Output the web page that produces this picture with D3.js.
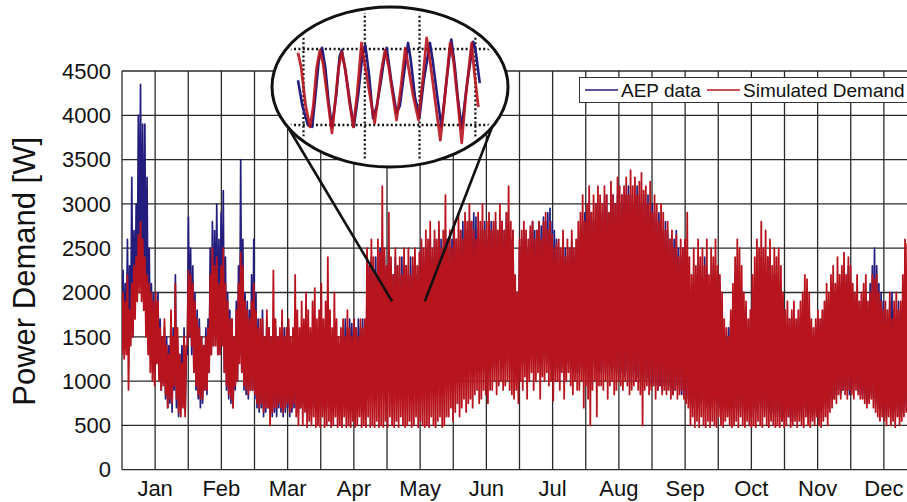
<!DOCTYPE html>
<html>
<head>
<meta charset="utf-8">
<script src="https://cdn.jsdelivr.net/npm/d3@7/dist/d3.min.js"></script>
<style>
  body { margin: 0; background: #fff; }
  svg { display: block; font-family: "Liberation Sans", Arial, sans-serif; }
</style>
</head>
<body>
<div id="chart"></div>
<script>

// daily high / low of the measured AEP demand [W], day 0 = 1 Jan
var aepHi = [
  2250, 2100, 2600, 2300, 3300, 2700, 3000, 4000, 4350, 3900,
  3900, 3300, 2500, 2100, 2000, 1900, 2000, 1700, 1500, 1600,
  1500, 1400, 1700, 1600, 2200, 1500, 1300, 1400, 1600, 1300,
  2850, 2500, 2300, 2000, 1800, 1700, 1500, 1400, 1600, 1700,
  2500, 2800, 2700, 3000, 2600, 2900, 3150, 2400, 2000, 1800,
  1700, 1500, 1900, 2300, 3500, 2600, 2000, 1900, 1800, 2200,
  2600, 2000, 1700, 1600, 1800, 1500, 1700, 1600, 1500, 1700,
  1600, 1500, 1400, 1700, 1600, 1500, 1600, 1400, 1500, 1600,
  1500, 1400, 1600, 1500, 1700, 1600, 1400, 1500, 1600, 1500,
  1600, 1500, 1400, 1500, 1600, 1500, 1400, 1300, 1500, 1400,
  1500, 1600, 1700, 1600, 1700, 1650, 1700, 1600, 1700, 1600,
  1700, 1600, 2100, 2300, 2400, 2200, 2400, 2300, 2500, 2600,
  2400, 2300, 2500, 2300, 2200, 2400, 2300, 2200, 2400, 2300,
  2300, 2200, 2400, 2300, 2400, 2200, 2300, 2500, 2400, 2500,
  2500, 2600, 2400, 2600, 2500, 2700, 2600, 2500, 2700, 2600,
  2500, 2600, 2700, 2600, 2500, 2700, 2800, 2600, 2700, 2800,
  2800, 2900, 2850, 2700, 2600, 2700, 2800, 2600, 2700, 2800,
  2700, 2800, 2700, 2600, 2800, 2700, 2900, 2700, 2600, 2700,
  2100, 2000, 2500, 2600, 2700, 2600, 2500, 2700, 2800, 2700,
  2700, 2800, 2750, 2850, 2800, 2900, 2950, 2800, 2700, 2600,
  2500, 2400, 2600, 2500, 2400, 2500, 2600, 2400, 2500, 2600,
  2700, 2800, 2900, 2800, 3000, 2900, 2800, 3000, 2900, 3000,
  2900, 3000, 3100, 2900, 3000, 3100, 3000, 3100, 3000, 3100,
  3000, 3100, 3200, 3100, 3000, 3100, 3200, 3100, 3000, 3100,
  3000, 3100, 2900, 3000, 2900, 2800, 2900, 2800, 2700, 2800,
  2700, 2600, 2500, 2600, 2700, 2500, 2400, 2500, 2400, 2300,
  1900, 1800, 2100, 2200, 2000, 2300, 2100, 2400, 2200, 2000,
  2100, 2300, 2200, 2000, 2100, 1900, 1600, 1500, 1600, 1700,
  1900, 2200, 2300, 2100, 2000, 1800, 1700, 1600, 1700, 1900,
  2100, 2300, 2200, 2400, 2300, 2200, 2400, 2300, 2100, 2200,
  2200, 2000, 2100, 1900, 1700, 1600, 1700, 1600, 1500, 1600,
  1700, 1600, 1800, 2000, 1900, 1800, 1600, 1500, 1600, 1700,
  1600, 1700, 1800, 1900, 1800, 2000, 2100, 2000, 1900, 2100,
  2000, 2200, 2100, 2300, 2100, 2000, 1900, 2000, 1800, 1900,
  1900, 2000, 1800, 2100, 2300, 2500, 2300, 2100, 2000, 1900,
  1800, 1700, 1900, 2000, 1800, 1700, 1900, 1800, 2000, 2100,
  2200, 2300, 2000, 1900, 2100
];
var aepLo = [
  1450, 1350, 1500, 1400, 1600, 1500, 1800, 2000, 2200, 2100,
  1900, 1700, 1400, 1300, 1200, 1100, 1300, 1100, 900, 1000,
  800, 700, 750, 650, 900, 700, 600, 700, 750, 650,
  1300, 1500, 1300, 1100, 900, 800, 700, 750, 900, 850,
  1100, 1300, 1400, 1500, 1300, 1400, 1500, 1100, 900, 800,
  750, 700, 900, 1000, 1300, 1100, 900, 850, 800, 900,
  900, 800, 700, 650, 700, 600, 650, 700, 650, 600,
  650, 600, 700, 650, 600, 650, 700, 600, 650, 700,
  700, 650, 700, 750, 700, 650, 700, 750, 700, 650,
  700, 750, 700, 650, 700, 750, 700, 650, 700, 750,
  800, 700, 750, 800, 700, 750, 800, 750, 700, 800,
  800, 750, 900, 800, 850, 900, 800, 850, 900, 800,
  850, 800, 900, 850, 800, 900, 850, 800, 900, 850,
  900, 850, 900, 950, 900, 850, 900, 950, 900, 1000,
  950, 1000, 900, 1000, 950, 1000, 1050, 1000, 950, 1000,
  1000, 950, 1050, 1000, 1100, 1050, 1000, 1100, 1050, 1100,
  1100, 1050, 1100, 1150, 1100, 1200, 1100, 1150, 1200, 1100,
  1200, 1150, 1200, 1250, 1200, 1150, 1200, 1250, 1200, 1150,
  1100, 1150, 1200, 1250, 1200, 1300, 1250, 1200, 1250, 1300,
  1250, 1300, 1200, 1250, 1300, 1200, 1250, 1150, 1200, 1100,
  1150, 1100, 1200, 1150, 1100, 1200, 1150, 1100, 1200, 1100,
  1100, 1150, 1100, 1200, 1150, 1100, 1200, 1150, 1100, 1200,
  1100, 1150, 1100, 1200, 1150, 1100, 1150, 1100, 1050, 1100,
  1100, 1050, 1100, 1000, 1050, 1100, 1000, 1050, 1000, 1050,
  1000, 1050, 1000, 950, 1000, 950, 900, 950, 900, 950,
  900, 950, 900, 850, 900, 950, 900, 850, 900, 850,
  800, 750, 700, 800, 750, 700, 750, 800, 700, 750,
  750, 700, 800, 750, 700, 800, 750, 700, 650, 700,
  700, 750, 700, 650, 700, 750, 700, 650, 700, 600,
  700, 650, 700, 750, 700, 650, 700, 650, 600, 650,
  600, 650, 600, 550, 600, 650, 600, 550, 600, 650,
  600, 650, 600, 700, 650, 600, 650, 600, 650, 700,
  700, 650, 700, 750, 700, 800, 850, 800, 850, 900,
  850, 900, 950, 900, 850, 900, 950, 1000, 900, 850,
  850, 800, 750, 800, 850, 800, 750, 700, 650, 700,
  650, 600, 700, 650, 600, 650, 700, 600, 650, 700,
  750, 800, 700, 750, 800
];

// daily high / low of the simulated demand [W]
var simHi = [
  2000, 1900, 2200, 1800, 2100, 2300, 2400, 2650, 2800, 2600,
  2400, 2200, 2100, 2000, 1900, 2000, 1900, 1600, 1500, 1700,
  1400, 1300, 1800, 1500, 2100, 1600, 1300, 1200, 1500, 1400,
  2250, 2200, 2100, 1900, 1700, 1600, 1500, 1400, 1500, 1600,
  2200, 2500, 2300, 2400, 2100, 2300, 2500, 2100, 1900, 1700,
  1700, 1500, 1800, 2100, 2450, 2300, 1900, 1800, 1700, 1900,
  2100, 1800, 1600, 1700, 1700, 1500, 1800, 1600, 1500, 2250,
  1700, 1500, 1600, 1800, 1500, 1600, 1700, 1500, 1600, 2200,
  1800, 1600, 1900, 1700, 2000, 1800, 1600, 1900, 2050, 1700,
  1800, 2100, 1700, 1900, 2400, 1800, 1600, 2000, 1700, 1500,
  1600, 1700, 1500, 1800, 1600, 1500, 1700, 1600, 1500, 1700,
  1600, 1700, 2500, 2300, 2600, 2400, 2200, 2600, 2450, 3200,
  2500, 2300, 2900, 2400, 2200, 2500, 2300, 2400, 2200, 2500,
  2300, 2500, 2200, 2400, 2500, 2300, 2450, 2600, 2500, 2700,
  2600, 2800, 2500, 2700, 2600, 2800, 2500, 2700, 3100, 2600,
  2700, 2500, 2800, 2600, 2900, 2700, 2600, 2900, 2800, 3000,
  2800, 2700, 2600, 2900, 2800, 3000, 2700, 2800, 2900, 2700,
  2800, 2900, 2700, 3000, 2800, 2700, 2900, 3200, 2800, 2700,
  2200, 2000, 2600, 2700, 2800, 2700, 2600, 2750, 2800, 2600,
  2700, 2800, 2600, 2800, 2900, 2700, 2800, 2650, 2500, 2550,
  2600, 2500, 2700, 2400, 2600, 2500, 2700, 2500, 2600, 2800,
  2900, 3100, 2800, 3000, 3200, 2900, 3100, 3000, 3200, 3100,
  3000, 3200, 3100, 2900, 3250, 3100, 3000, 3300, 3200, 3100,
  3200, 3300, 3100, 3380, 3200, 3300, 3100, 3250, 3350, 3150,
  3200, 3000, 3250, 2900, 3100, 3000, 2800, 3000, 2900, 2700,
  2800, 2600, 2700, 2500, 2650, 2400, 2600, 2500, 2600, 2900,
  2400, 2200, 2500, 2300, 2600, 2400, 2500, 2300, 2600, 2200,
  2500, 2400, 2600, 2300, 2200, 2000, 1700, 1600, 1500, 1800,
  2100, 2400, 2600, 2500, 2300, 2000, 1900, 1700, 1800, 2200,
  2400, 2600, 2500, 2800, 2500, 2700, 2400, 2600, 2300, 2500,
  2400, 2500, 2300, 2000, 1800, 1900, 1700, 1800, 1900, 1700,
  1800, 1900, 2000, 2200, 2150, 2000, 1700, 1600, 1700, 1800,
  1700, 1800, 1900, 2100, 2000, 2200, 2300, 2100, 2400, 2200,
  2300, 2450, 2200, 2400, 2300, 2100, 2000, 2200, 1900, 2000,
  2100, 2200, 1900, 2000, 2200, 2150, 2200, 2000, 1900, 1800,
  1900, 1800, 2000, 1700, 1900, 2000, 1800, 1900, 2200, 2600,
  2550, 2400, 2200, 2000, 2300
];
var simLo = [
  1300, 1250, 1300, 900, 1400, 1500, 1700, 1900, 2000, 1900,
  1800, 1500, 1300, 1100, 1000, 950, 1200, 1000, 900, 950,
  850, 700, 800, 750, 950, 800, 650, 600, 700, 600,
  1400, 1500, 1400, 1100, 950, 850, 800, 800, 900, 900,
  1100, 1300, 1400, 1400, 1300, 1300, 1400, 1100, 950, 850,
  800, 700, 950, 1000, 1200, 1100, 950, 900, 850, 900,
  900, 850, 750, 700, 750, 650, 700, 700, 500, 650,
  700, 700, 750, 700, 650, 700, 750, 650, 700, 750,
  600, 500, 700, 500, 650, 480, 550, 500, 600, 480,
  500, 480, 600, 480, 500, 550, 480, 500, 600, 480,
  500, 480, 600, 480, 500, 480, 550, 480, 500, 600,
  480, 500, 480, 600, 480, 500, 480, 550, 480, 500,
  480, 550, 480, 600, 500, 480, 550, 480, 600, 500,
  480, 500, 550, 480, 500, 600, 480, 550, 500, 480,
  500, 480, 600, 500, 480, 550, 600, 480, 500, 600,
  600, 700, 550, 650, 750, 600, 700, 800, 650, 750,
  800, 700, 850, 900, 750, 800, 900, 850, 750, 900,
  900, 1000, 850, 950, 1000, 900, 950, 1000, 900, 850,
  800, 900, 750, 1000, 900, 1050, 800, 1000, 1100, 900,
  1000, 1100, 800, 1050, 1000, 1100, 950, 1000, 780, 1000,
  1000, 900, 1100, 800, 1000, 1100, 950, 850, 1000, 900,
  900, 1000, 700, 950, 800, 500, 900, 1000, 600, 950,
  950, 900, 1000, 800, 950, 1000, 850, 900, 1000, 950,
  900, 1000, 950, 850, 900, 950, 1000, 900, 850, 500,
  900, 950, 850, 900, 950, 800, 900, 950, 850, 900,
  850, 900, 800, 850, 900, 800, 850, 900, 800, 750,
  700, 500, 600, 480, 550, 480, 600, 500, 480, 550,
  480, 550, 500, 480, 600, 500, 480, 550, 600, 500,
  480, 500, 550, 480, 600, 500, 480, 550, 500, 480,
  500, 480, 550, 500, 480, 600, 500, 480, 550, 500,
  480, 500, 480, 550, 480, 500, 600, 480, 500, 550,
  480, 550, 500, 480, 600, 500, 480, 550, 500, 600,
  500, 480, 550, 600, 500, 650, 700, 800, 750, 850,
  800, 900, 850, 800, 900, 850, 800, 900, 850, 800,
  800, 750, 700, 750, 800, 700, 650, 600, 550, 600,
  550, 500, 600, 500, 550, 480, 600, 500, 550, 600,
  650, 700, 600, 650, 700
];

// one week of early May, hourly shape shown in the magnifier
var insetAepHours = [0, 4, 9, 13, 16, 19, 22, 25, 28, 31, 35, 38, 40, 44, 48, 51, 55, 59, 61.5, 65, 68.5, 72,
  76, 79, 81, 85, 90, 93, 97, 100.5, 103, 107, 111, 115, 120.5, 123, 127, 131, 135, 140, 143, 146, 149.5, 154, 160, 162, 166];
var insetAepValues = [2180, 1500, 1000, 950, 1800, 2700, 3030, 2500, 1600, 950, 1800, 2800, 2970, 2300, 1500, 950, 1800, 2900, 3100, 2300, 1180, 1500,
  2200, 2800, 3030, 2200, 1320, 1500, 2400, 3160, 2700, 1700, 1220, 2200, 3160, 2700, 1800, 950, 2000, 3250, 2600, 1700, 920, 2000, 3190, 3000, 2100];
var insetSimHours = [0, 3, 7, 11, 14, 17, 20, 23, 27, 31, 34, 37, 40, 43, 47, 50.5, 54, 58, 61, 65, 70, 73,
  76, 79.5, 83, 86, 90, 94, 98, 101, 105, 110, 114, 117.5, 121, 125, 130, 134, 139, 142, 146, 149.5, 153, 158.6, 161, 164.7];
var insetSimValues = [2900, 2500, 1500, 950, 1500, 2500, 2970, 2600, 1700, 790, 1600, 2500, 2920, 2500, 1600, 950, 1800, 3160, 2600, 1900, 1050, 1700,
  2400, 2970, 2500, 1900, 1130, 2000, 3020, 2500, 1800, 1130, 2200, 3290, 2600, 1700, 600, 1700, 3160, 2700, 1600, 530, 1700, 3160, 2400, 1470];
var insetHourTicks = [5, 61, 111, 162];
var insetValueTicks = [1000, 3000];
var zoomDays = [124, 139];   // part of the year that the magnifier shows
var zoomValue = 1900;

var months = ["Jan", "Feb", "Mar", "Apr", "May", "Jun", "Jul", "Aug", "Sep", "Oct", "Nov", "Dec"];
var yTicks = [0, 500, 1000, 1500, 2000, 2500, 3000, 3500, 4000, 4500];
var seriesNames = ["AEP data", "Simulated Demand"];

var aepColor = "#231d7e",
    simColor = "#b8141e";

// layout
var width = 907,
    height = 502,
    marginLeft = 122,
    marginTop = 71,
    plotW = 795,
    plotH = 398.7;

var svg = d3.select("#chart")
  .append("svg")
    .attr("width", width)
    .attr("height", height);

var x = d3.scaleLinear().domain([0, 365]).range([marginLeft, marginLeft + plotW]);
var xMonth = d3.scaleLinear().domain([0, 12]).range([marginLeft, marginLeft + plotW]);
var y = d3.scaleLinear().domain([0, 4500]).range([marginTop + plotH, marginTop]);

// grid: every 500 W, every half month
svg.append("g")
  .selectAll("line")
  .data(yTicks)
  .enter()
  .append("line")
    .attr("x1", marginLeft).attr("x2", marginLeft + plotW)
    .attr("y1", function(d) { return y(d); })
    .attr("y2", function(d) { return y(d); })
    .attr("stroke", "#2a2a2a")
    .attr("stroke-width", 1.3);

svg.append("g")
  .selectAll("line")
  .data(d3.range(0, 12.5, 0.5))
  .enter()
  .append("line")
    .attr("x1", function(d) { return xMonth(d); })
    .attr("x2", function(d) { return xMonth(d); })
    .attr("y1", marginTop).attr("y2", marginTop + plotH)
    .attr("stroke", "#2a2a2a")
    .attr("stroke-width", 1.3);

svg.append("clipPath")
    .attr("id", "plotClip")
  .append("rect")
    .attr("x", marginLeft).attr("y", marginTop)
    .attr("width", plotW).attr("height", plotH);

// each day goes from its low up to its high
function dayPoints(lo, hi) {
  var pts = [];
  lo.forEach(function(v, i) {
    pts.push([i, v]);
    pts.push([i + 0.5, hi[i]]);
  });
  return pts;
}

var line = d3.line()
  .x(function(d) { return x(d[0]); })
  .y(function(d) { return y(d[1]); });

var plot = svg.append("g").attr("clip-path", "url(#plotClip)");

plot.append("path")
  .attr("d", line(dayPoints(aepLo, aepHi)))
  .attr("fill", "none")
  .attr("stroke", aepColor)
  .attr("stroke-width", 1.7)
  .attr("stroke-linejoin", "round");

plot.append("path")
  .attr("d", line(dayPoints(simLo, simHi)))
  .attr("fill", "none")
  .attr("stroke", simColor)
  .attr("stroke-width", 1.8)
  .attr("stroke-linejoin", "round");

// axis labels
svg.append("g")
  .selectAll("text")
  .data(yTicks)
  .enter()
  .append("text")
    .attr("x", marginLeft - 11)
    .attr("y", function(d) { return y(d); })
    .attr("dy", "0.35em")
    .attr("text-anchor", "end")
    .style("font-size", "22px")
    .style("fill", "#111")
    .text(function(d) { return d; });

svg.append("g")
  .selectAll("text")
  .data(months)
  .enter()
  .append("text")
    .attr("x", function(d, i) { return xMonth(i + 0.5); })
    .attr("y", 496)
    .attr("text-anchor", "middle")
    .style("font-size", "22px")
    .style("fill", "#111")
    .text(function(d) { return d; });

svg.append("text")
  .attr("transform", "translate(35," + (marginTop + plotH / 2 + 1) + ") rotate(-90)")
  .attr("text-anchor", "middle")
  .style("font-size", "31px")
  .style("fill", "#111")
  .text("Power Demand [W]");

// legend
var legend = svg.append("g");
legend.append("rect")
  .attr("x", 579.5).attr("y", 77.5)
  .attr("width", 340).attr("height", 25)
  .attr("fill", "#fff")
  .attr("stroke", "#333")
  .attr("stroke-width", 1);

var legendItems = [
  { name: seriesNames[0], color: aepColor, x: 585 },
  { name: seriesNames[1], color: simColor, x: 707 }
];
legendItems.forEach(function(it) {
  legend.append("line")
    .attr("x1", it.x).attr("x2", it.x + 33)
    .attr("y1", 90).attr("y2", 90)
    .attr("stroke", it.color)
    .attr("stroke-width", 1.3);
  legend.append("text")
    .attr("x", it.x + 36)
    .attr("y", 97)
    .style("font-size", "19px")
    .style("fill", "#111")
    .text(it.name);
});

// magnifier
var ell = { cx: 390, cy: 87, rx: 118, ry: 80 };
var edgeDx = 102;
var edgeY = ell.cy + ell.ry * Math.sqrt(1 - Math.pow(edgeDx / ell.rx, 2));

svg.append("line")
  .attr("x1", ell.cx - edgeDx).attr("y1", edgeY)
  .attr("x2", x(zoomDays[0])).attr("y2", y(zoomValue))
  .attr("stroke", "#111").attr("stroke-width", 2.6);
svg.append("line")
  .attr("x1", ell.cx + edgeDx).attr("y1", edgeY)
  .attr("x2", x(zoomDays[1])).attr("y2", y(zoomValue))
  .attr("stroke", "#111").attr("stroke-width", 2.6);

svg.append("clipPath")
    .attr("id", "insetClip")
  .append("ellipse")
    .attr("cx", ell.cx).attr("cy", ell.cy)
    .attr("rx", ell.rx - 4).attr("ry", ell.ry - 4);

svg.append("ellipse")
  .attr("cx", ell.cx).attr("cy", ell.cy)
  .attr("rx", ell.rx).attr("ry", ell.ry)
  .attr("fill", "#fff");

var ix = d3.scaleLinear().domain([0, 168]).range([298, 298 + 168 * 1.095]);
var iy = d3.scaleLinear().domain([1000, 3000]).range([125, 49]);

var inset = svg.append("g").attr("clip-path", "url(#insetClip)");

inset.selectAll(".hdot")
  .data(insetValueTicks)
  .enter()
  .append("line")
    .attr("x1", ell.cx - ell.rx).attr("x2", ell.cx + ell.rx)
    .attr("y1", function(d) { return iy(d); })
    .attr("y2", function(d) { return iy(d); })
    .attr("stroke", "#111")
    .attr("stroke-width", 2.3)
    .attr("stroke-dasharray", "2,2.4");

inset.selectAll(".vdot")
  .data(insetHourTicks)
  .enter()
  .append("line")
    .attr("x1", function(d) { return ix(d); })
    .attr("x2", function(d) { return ix(d); })
    .attr("y1", ell.cy - ell.ry).attr("y2", ell.cy + ell.ry)
    .attr("stroke", "#111")
    .attr("stroke-width", 2.3)
    .attr("stroke-dasharray", "2,2.4");

var insetLine = d3.line()
  .x(function(d) { return ix(d[0]); })
  .y(function(d) { return iy(d[1]); });

inset.append("path")
  .attr("d", insetLine(d3.zip(insetAepHours, insetAepValues)))
  .attr("fill", "none")
  .attr("stroke", aepColor)
  .attr("stroke-width", 2.6)
  .attr("stroke-linejoin", "round");

inset.append("path")
  .attr("d", insetLine(d3.zip(insetSimHours, insetSimValues)))
  .attr("fill", "none")
  .attr("stroke", simColor)
  .attr("stroke-opacity", 0.9)
  .attr("stroke-width", 2.8)
  .attr("stroke-linejoin", "round");

svg.append("ellipse")
  .attr("cx", ell.cx).attr("cy", ell.cy)
  .attr("rx", ell.rx).attr("ry", ell.ry)
  .attr("fill", "none")
  .attr("stroke", "#111")
  .attr("stroke-width", 3);

</script>
</body>
</html>
